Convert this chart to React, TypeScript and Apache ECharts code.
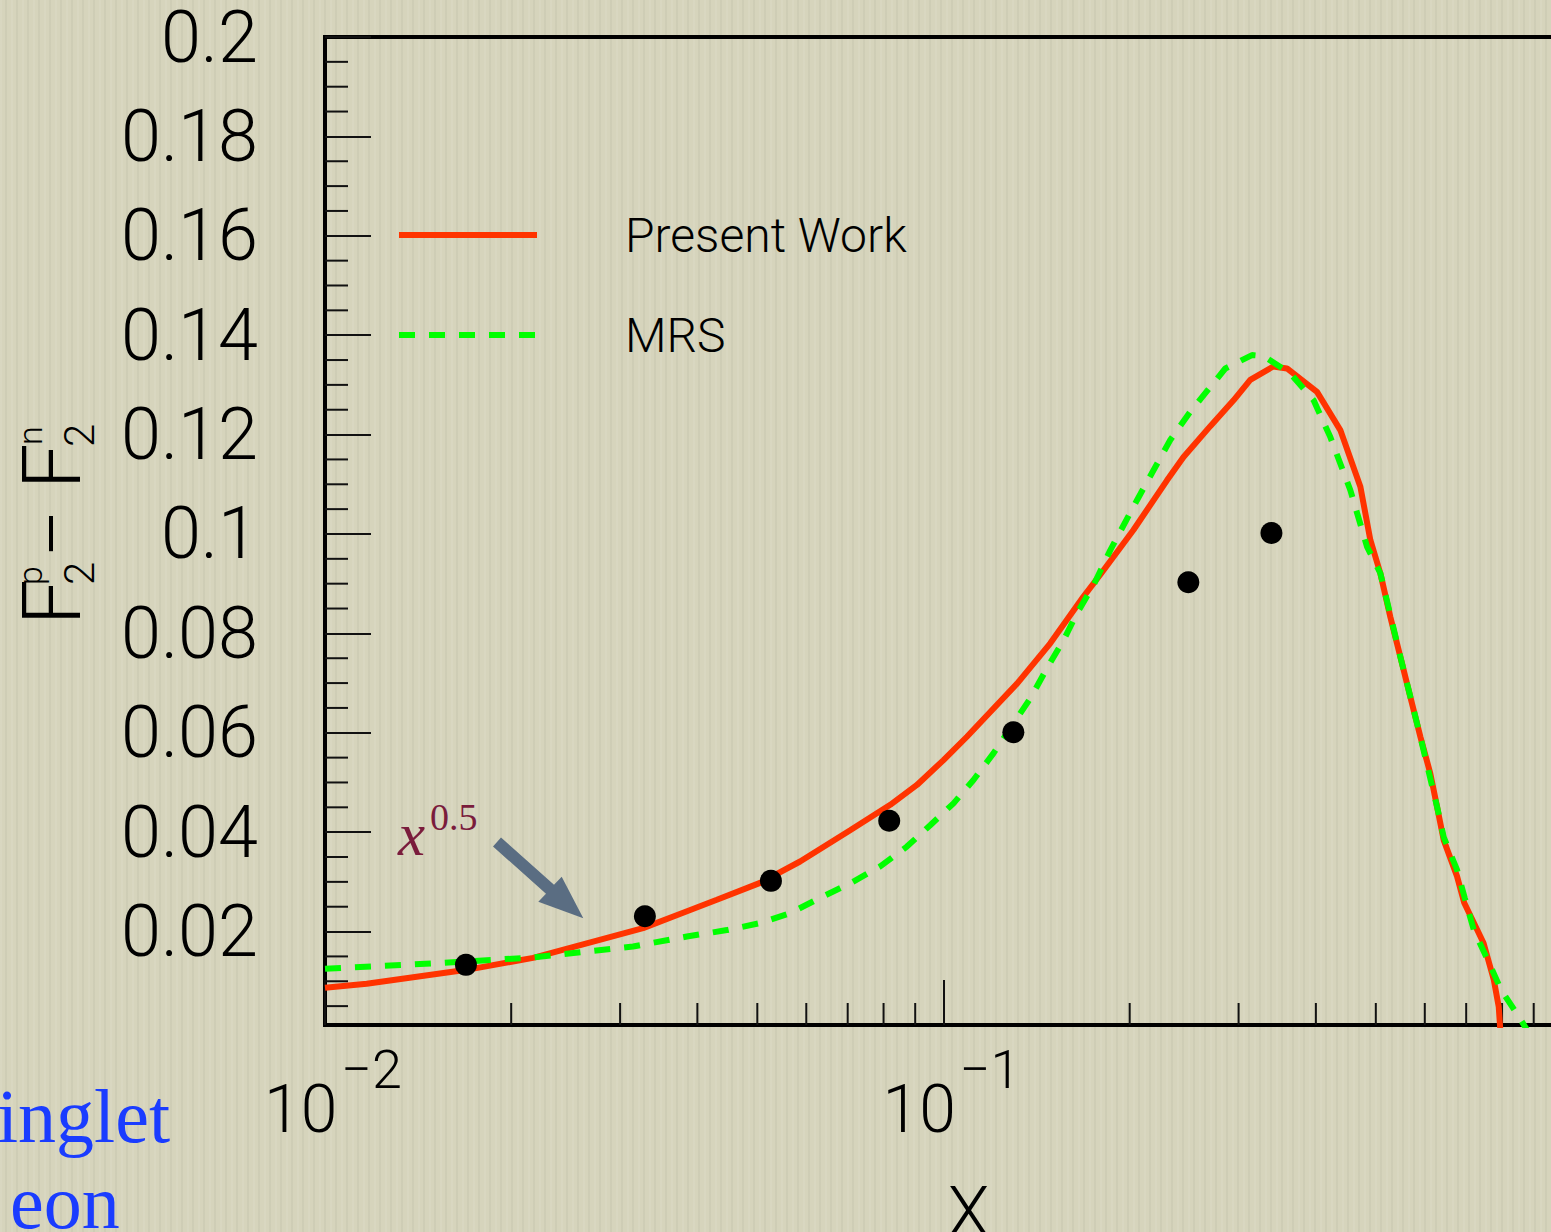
import React, { useEffect, useRef } from 'react';
import * as echarts from 'echarts';

// ---- data ----
const presentWorkX = [0.0100, 0.01168, 0.01695, 0.0217, 0.03268, 0.03793, 0.04301, 0.05052, 0.05863, 0.07065, 0.08202, 0.09058, 0.1000, 0.1091, 0.1315, 0.1488, 0.1684, 0.1792, 0.2028, 0.2298, 0.2444, 0.2700, 0.2944, 0.3133, 0.3413, 0.3592, 0.4017, 0.4381, 0.4721, 0.4899, 0.5085, 0.5278, 0.5478, 0.5686, 0.5902, 0.6125, 0.6281, 0.6438, 0.6766, 0.6948, 0.7467, 0.7757, 0.7901, 0.7950];
const presentWorkY = [0.0087, 0.0095, 0.0123, 0.0147, 0.0207, 0.0238, 0.0264, 0.0298, 0.0341, 0.0404, 0.0455, 0.0495, 0.0545, 0.0592, 0.0699, 0.0780, 0.0874, 0.0918, 0.1008, 0.1108, 0.1155, 0.1217, 0.1269, 0.1310, 0.1337, 0.1333, 0.1286, 0.1209, 0.1095, 0.0988, 0.0921, 0.0833, 0.0753, 0.0672, 0.0592, 0.0518, 0.0451, 0.0384, 0.0311, 0.0258, 0.0177, 0.0103, 0.0049, 0.0];

const mrsX = [0.0100, 0.01495, 0.0217, 0.03148, 0.03846, 0.04465, 0.05052, 0.05650, 0.06320, 0.07065, 0.07901, 0.08726, 0.09517, 0.1038, 0.1118, 0.1205, 0.1298, 0.1381, 0.1470, 0.1563, 0.1643, 0.1748, 0.1860, 0.2055, 0.2326, 0.2506, 0.2855, 0.3154, 0.3292, 0.3637, 0.3967, 0.4221, 0.4548, 0.4840, 0.5085, 0.5478, 0.5902, 0.6281, 0.6438, 0.6766, 0.6965, 0.7202, 0.7582, 0.7970, 0.8511, 0.8800];
const mrsY = [0.0125, 0.0136, 0.0148, 0.0170, 0.0190, 0.0203, 0.0217, 0.0237, 0.0268, 0.0297, 0.0331, 0.0371, 0.0414, 0.0458, 0.0505, 0.0559, 0.0619, 0.0669, 0.0730, 0.0786, 0.0840, 0.0897, 0.0967, 0.1068, 0.1189, 0.1246, 0.1333, 0.1360, 0.1358, 0.1323, 0.1269, 0.1195, 0.1088, 0.0974, 0.0921, 0.0753, 0.0592, 0.0451, 0.0390, 0.0324, 0.0267, 0.0203, 0.0143, 0.0083, 0.0029, 0.0];

const expX = [0.0169, 0.0329, 0.0526, 0.0817, 0.1297, 0.2488, 0.339];
const expY = [0.0133, 0.0231, 0.0302, 0.0423, 0.0601, 0.0903, 0.1002];

const yMajorTicks = [0.02, 0.04, 0.06, 0.08, 0.1, 0.12, 0.14, 0.16, 0.18, 0.2];
const yMinorTicks = [0.005, 0.01, 0.015, 0.025, 0.03, 0.035, 0.045, 0.05, 0.055, 0.065, 0.07, 0.075, 0.085, 0.09, 0.095, 0.105, 0.11, 0.115, 0.125, 0.13, 0.135, 0.145, 0.15, 0.155, 0.165, 0.17, 0.175, 0.185, 0.19, 0.195];
const xMinorTicks = [0.02, 0.03, 0.04, 0.05, 0.06, 0.07, 0.08, 0.09, 0.2, 0.3, 0.4, 0.5, 0.6, 0.7, 0.8, 0.9];

const X_MIN = 0.01;
const X_MAX = 1;
const Y_MIN = 0.0012;
const Y_MAX = 0.2;

const SANS = 'Roboto, "Liberation Sans", sans-serif';
const SERIF = '"Liberation Serif", "DejaVu Serif", serif';

const zip = (xs: number[], ys: number[]) => xs.map((x, i) => [x, ys[i]]);

export default function App() {
  const ref = useRef<HTMLDivElement>(null);

  useEffect(() => {
    const chart = echarts.init(ref.current!, null, { renderer: 'svg' });

    const option: any = {
      animation: false,
      backgroundColor: 'transparent',
      grid: {
        left: 325,
        top: 37,
        right: -11,
        bottom: 207,
        outerBoundsMode: 'none',
        containLabel: false,
        show: true,
        borderColor: '#000',
        borderWidth: 4,
        backgroundColor: 'transparent',
      },
      legend: {
        data: ['Present Work', 'MRS'],
        orient: 'vertical',
        left: 391,
        top: 206,
        itemWidth: 138,
        itemHeight: 30,
        itemGap: 52,
        lineStyle: { width: 'inherit' },
        itemStyle: { opacity: 0 },
        textStyle: {
          fontSize: 48,
          fontFamily: SANS,
          fontWeight: 300,
          color: '#000',
          padding: [0, 0, 12, 83],
        },
      },
      xAxis: {
        type: 'log',
        logBase: 10,
        min: X_MIN,
        max: X_MAX,
        name: 'X',
        nameLocation: 'middle',
        nameGap: 153,
        nameTextStyle: {
          fontSize: 68,
          fontFamily: SANS,
          fontWeight: 300,
          color: '#000',
          padding: [0, 0, 0, 50],
        },
        axisLine: { show: false },
        splitLine: { show: false },
        axisTick: { show: true, inside: true, length: 45, lineStyle: { color: '#111', width: 2 } },
        axisLabel: {
          margin: 17,
          formatter: (v: number) => {
            const e = Math.round(Math.log10(v));
            if (e >= 0) return '';
            return '{b|10}{s|\u2212' + -e + '}';
          },
          rich: {
            b: { fontSize: 66, fontFamily: SANS, fontWeight: 300, color: '#000', lineHeight: 100, verticalAlign: 'bottom', padding: [0, 0, 0, 16] },
            s: { fontSize: 54, fontFamily: SANS, fontWeight: 300, color: '#000', verticalAlign: 'top', padding: [0, 0, 0, 4] },
          },
        },
      },
      yAxis: {
        type: 'value',
        min: Y_MIN,
        max: Y_MAX,
        axisLine: { show: false },
        splitLine: { show: false },
        axisTick: { show: true, inside: true, length: 46, customValues: yMajorTicks, lineStyle: { color: '#111', width: 2 } },
        axisLabel: {
          customValues: yMajorTicks,
          margin: 67,
          fontSize: 72,
          fontFamily: SANS,
          fontWeight: 300,
          color: '#000',
          formatter: (v: number) => String(+v.toFixed(3)),
        },
      },
      series: [
        {
          name: 'xMinorTicks',
          type: 'custom',
          silent: true,
          data: xMinorTicks.map((v) => [v, Y_MIN]),
          renderItem: (params: any, api: any) => {
            const p = api.coord([api.value(0), api.value(1)]);
            return {
              type: 'line',
              shape: { x1: p[0], y1: p[1], x2: p[0], y2: p[1] - 22 },
              style: { stroke: '#111', lineWidth: 2 },
            };
          },
          z: 1,
        },
        {
          name: 'yMinorTicks',
          type: 'custom',
          silent: true,
          data: yMinorTicks.map((v) => [X_MIN, v]),
          renderItem: (params: any, api: any) => {
            const p = api.coord([api.value(0), api.value(1)]);
            return {
              type: 'line',
              shape: { x1: p[0], y1: p[1], x2: p[0] + 23, y2: p[1] },
              style: { stroke: '#111', lineWidth: 2 },
            };
          },
          z: 1,
        },
        {
          name: 'Present Work',
          type: 'line',
          data: zip(presentWorkX, presentWorkY),
          symbol: 'none',
          showSymbol: false,
          color: '#ff3300',
          lineStyle: { color: '#ff3300', width: 6 },
          clip: true,
          z: 3,
        },
        {
          name: 'MRS',
          type: 'line',
          data: zip(mrsX, mrsY),
          symbol: 'none',
          showSymbol: false,
          color: '#00ff00',
          lineStyle: { color: '#00ff00', width: 6, type: [16, 14] },
          clip: true,
          z: 4,
        },
        {
          name: 'Data',
          type: 'scatter',
          data: zip(expX, expY),
          symbol: 'circle',
          symbolSize: 22,
          itemStyle: { color: '#000', opacity: 1 },
          z: 5,
        },
      ],
      graphic: [
        {
          type: 'group',
          x: 0,
          y: 625,
          rotation: Math.PI / 2,
          children: [
            { type: 'text', x: 0, y: 52, style: { text: 'F', fontSize: 81, fontFamily: SANS, fontWeight: 300, fill: '#000', align: 'left', verticalAlign: 'middle' } },
            { type: 'text', x: 40, y: 30, style: { text: 'p', fontSize: 34, fontFamily: SANS, fontWeight: 300, fill: '#000', align: 'left', verticalAlign: 'middle' } },
            { type: 'text', x: 40, y: 79, style: { text: '2', fontSize: 42, fontFamily: SANS, fontWeight: 300, fill: '#000', align: 'left', verticalAlign: 'middle' } },
            { type: 'text', x: 70, y: 51, style: { text: '\u2014', fontSize: 54, fontFamily: SANS, fontWeight: 400, fill: '#000', align: 'left', verticalAlign: 'middle' } },
            { type: 'text', x: 136, y: 52, style: { text: 'F', fontSize: 81, fontFamily: SANS, fontWeight: 300, fill: '#000', align: 'left', verticalAlign: 'middle' } },
            { type: 'text', x: 180, y: 30, style: { text: 'n', fontSize: 34, fontFamily: SANS, fontWeight: 300, fill: '#000', align: 'left', verticalAlign: 'middle' } },
            { type: 'text', x: 178, y: 79, style: { text: '2', fontSize: 42, fontFamily: SANS, fontWeight: 300, fill: '#000', align: 'left', verticalAlign: 'middle' } },
          ],
        },
        {
          type: 'text',
          x: 398,
          y: 834,
          style: { text: 'x', fontSize: 61, fontFamily: SERIF, fontStyle: 'italic', fill: '#7a1c3c', align: 'left', verticalAlign: 'middle' },
        },
        {
          type: 'text',
          x: 430,
          y: 817,
          style: { text: '0.5', fontSize: 38, fontFamily: SERIF, fill: '#7a1c3c', align: 'left', verticalAlign: 'middle' },
        },
        {
          type: 'polygon',
          shape: {
            points: [[501, 837.5], [554, 884.7], [561.7, 876.7], [583.3, 918.3], [538.3, 901.7], [546, 893.7], [493, 846.5]],
          },
          style: { fill: '#5a6d82' },
        },
        {
          type: 'text',
          x: -3,
          y: 1116,
          style: { text: 'inglet', fontSize: 76, fontFamily: SERIF, fill: '#1a3cff', align: 'left', verticalAlign: 'middle' },
        },
        {
          type: 'text',
          x: 10,
          y: 1202,
          style: { text: 'eon', fontSize: 76, fontFamily: SERIF, fill: '#1a3cff', align: 'left', verticalAlign: 'middle' },
        },
      ],
    };

    chart.setOption(option);
    return () => chart.dispose();
  }, []);

  return (
    <div
      ref={ref}
      style={{
        position: 'fixed',
        left: 0,
        top: 0,
        width: 1551,
        height: 1232,
        background:
          'repeating-linear-gradient(90deg, rgba(255,255,255,0.07) 0px, rgba(255,255,255,0.07) 2px, rgba(0,0,0,0) 2px, rgba(0,0,0,0) 5px, rgba(0,0,0,0.035) 5px, rgba(0,0,0,0.035) 7px, rgba(0,0,0,0) 7px, rgba(0,0,0,0) 11px), #d6d4bc',
      }}
    />
  );
}
